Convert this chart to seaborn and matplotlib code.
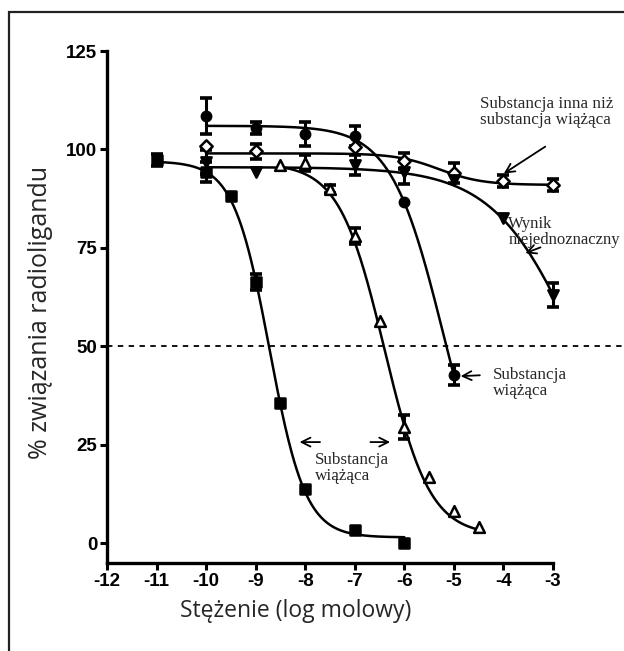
import numpy as np
import pandas as pd
import seaborn as sns
import matplotlib.pyplot as plt
from matplotlib.patches import Rectangle

# measured points (log M, % bound, SEM)
sq_x = [-11, -10, -9.5, -9, -8.5, -8, -7, -6]
sq_y = [97.3, 94.3, 88.2, 66.3, 35.6, 13.7, 3.3, 0.0]
sq_err = [1.5, 2.5, 0, 2.0, 0, 0, 0, 0]

tri_x = [-8.5, -8, -7.5, -7, -6.5, -6, -5.5, -5, -4.5]
tri_y = [96.0, 96.5, 90.0, 78.0, 56.5, 29.5, 16.8, 8.1, 4.1]
tri_err = [0, 2.0, 1.0, 2.0, 0, 3.0, 0, 0, 0]

circ_x = [-10, -9, -8, -7, -6, -5]
circ_y = [108.5, 105.5, 104.0, 103.5, 86.6, 42.7]
circ_err = [4.5, 1.5, 3.0, 2.5, 0, 2.5]

dia_x = [-10, -9, -7, -6, -5, -4, -3]
dia_y = [101.0, 99.5, 100.5, 97.0, 94.0, 92.0, 91.0]
dia_err = [0, 2.0, 0, 2.0, 2.5, 1.5, 1.5]

inv_x = [-10, -9, -7, -6, -5, -4, -3]
inv_y = [96.8, 94.3, 96.0, 94.3, 92.2, 82.6, 63.0]
inv_err = [3.0, 0, 2.5, 3.0, 0, 0, 3.0]

# fitted 4PL curves: top, bottom, logIC50, hill, x from, x to
sq_fit = [97.0, 1.5, -8.72, 1.2, -11, -6]
tri_fit = [96.5, 2.0, -6.4, 0.95, -8.5, -4.5]
circ_fit = [106.0, 0.0, -5.21, 0.82, -10, -5]
dia_fit = [99.0, 91.0, -5.3, 1.0, -10, -3]
inv_fit = [95.5, 0.0, -2.42, 0.5, -10, -3]

x_ticks = list(range(-12, -2))
y_ticks = [0, 25, 50, 75, 100, 125]

sns.set_theme(style="ticks")
plt.rcParams['font.family'] = ['Liberation Sans', 'DejaVu Sans']
plt.rcParams['axes.unicode_minus'] = False

fig = plt.figure(figsize=(6.24, 6.51), dpi=100)
ax = fig.add_axes([107 / 624, 1 - 563 / 651, 446 / 624, 512 / 651])

# outer frame
fig.patches.append(Rectangle((9 / 624, -0.1), 2, 1 - 12 / 651 + 0.1, transform=fig.transFigure,
                             fill=False, edgecolor='#222222', linewidth=1.6))


def curve(p):
    top, bottom, c, h, x0, x1 = p
    xs = np.linspace(x0, x1, 300)
    ys = bottom + (top - bottom) / (1 + 10 ** ((xs - c) * h))
    return pd.DataFrame({'x': xs, 'y': ys})


for p in [sq_fit, tri_fit, circ_fit, dia_fit, inv_fit]:
    d = curve(p)
    sns.lineplot(data=d, x='x', y='y', color='black', linewidth=1.8, ax=ax, zorder=2)

series = [
    (sq_x, sq_y, sq_err, 's', 'black', 60),
    (tri_x, tri_y, tri_err, '^', 'white', 60),
    (circ_x, circ_y, circ_err, 'o', 'black', 45),
    (dia_x, dia_y, dia_err, 'D', 'white', 40),
    (inv_x, inv_y, inv_err, 'v', 'black', 55),
]
for xs, ys, es, m, fc, s in series:
    xe = [a for a, e in zip(xs, es) if e > 0]
    ye = [b for b, e in zip(ys, es) if e > 0]
    ee = [e for e in es if e > 0]
    eb = ax.errorbar(xe, ye, yerr=ee, fmt='none', ecolor='black', elinewidth=2.2,
                     capsize=4.5, capthick=2.6, zorder=3)
    for art in eb.get_children():
        art.set_clip_on(False)
    sns.scatterplot(x=xs, y=ys, marker=m, s=s, color=fc, edgecolor='black',
                    linewidth=1.8, ax=ax, zorder=4)
for coll in ax.collections:
    coll.set_clip_on(False)

# 50% line
ax.plot([-12, -1.5], [50, 50], ls=(0, (3, 3)), color='black', lw=1.3, clip_on=False, zorder=1)

ax.set_xlim(-12, -3)
ax.set_ylim(-5, 125)
ax.set_xticks(x_ticks)
ax.set_yticks(y_ticks)
ax.tick_params(direction='out', length=5, width=2.2, pad=2, labelsize=13.5, colors='black')
for lab in ax.get_xticklabels() + ax.get_yticklabels():
    lab.set_fontweight('bold')
for s in ['left', 'bottom']:
    ax.spines[s].set_linewidth(2.4)
    ax.spines[s].set_color('black')
sns.despine(ax=ax)

ax.set_xlabel('Stężenie (log molowy)', family=['Open Sans', 'DejaVu Sans'], fontsize=16.5)
ax.xaxis.set_label_coords(0.424, -0.07)
ax.set_ylabel('% związania radioligandu', family=['Open Sans', 'DejaVu Sans'], fontsize=18)
ax.yaxis.label.set_va('center')
ax.yaxis.set_label_coords(-0.15, 0.49)

serif = ['Liberation Serif', 'DejaVu Serif']
arr = dict(arrowstyle='->', color='black', lw=1.3, mutation_scale=16)
ax.annotate('', xy=(-4.04, 93.5), xytext=(-3.11, 101.1), arrowprops=arr, annotation_clip=False)
ax.text(-4.47, 109.5, 'Substancja inna niż\nsubstancja wiążąca', family=serif, fontsize=12.3,
        linespacing=1.05, va='center', ha='left', clip_on=False)

ax.annotate('', xy=(-3.61, 73.4), xytext=(-3.2, 75.4), arrowprops=arr, annotation_clip=False)
ax.text(-3.9, 79.0, 'Wynik\nniejednoznaczny', family=serif, fontsize=12,
        linespacing=1.0, va='center', ha='left', clip_on=False)

ax.annotate('', xy=(-4.92, 42.4), xytext=(-4.42, 42.7), arrowprops=arr, annotation_clip=False)
ax.text(-4.22, 40.6, 'Substancja\nwiążąca', family=serif, fontsize=12.3,
        linespacing=1.0, va='center', ha='left', clip_on=False)

ax.annotate('', xy=(-8.17, 25.7), xytext=(-7.645, 25.7), arrowprops=arr)
ax.annotate('', xy=(-6.23, 25.7), xytext=(-6.74, 25.7), arrowprops=arr)
ax.text(-7.81, 19.05, 'Substancja\nwiążąca', family=serif, fontsize=12.3,
        linespacing=1.0, va='center', ha='left')

fig.savefig('out.png', dpi=100)
